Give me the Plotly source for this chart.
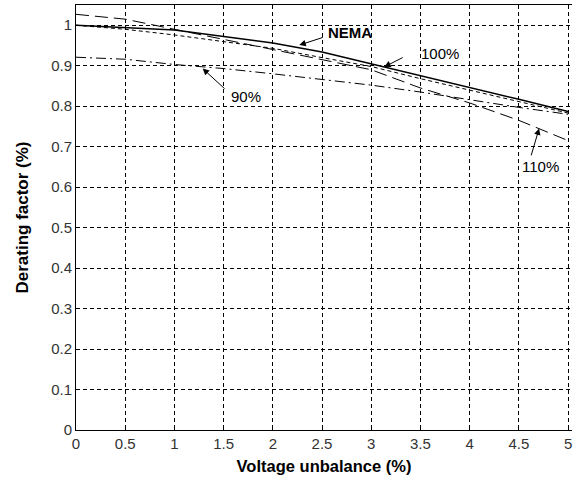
import plotly.graph_objects as go

x_vals = [0, 0.5, 1, 1.5, 2, 2.5, 3, 3.5, 4, 4.5, 5]
nema = [1.0, 0.994, 0.988, 0.972, 0.956, 0.934, 0.905, 0.875, 0.847, 0.817, 0.787]
v100 = [1.0, 0.99, 0.976, 0.96, 0.943, 0.92, 0.898, 0.868, 0.84, 0.812, 0.783]
v110 = [1.027, 1.015, 0.99, 0.965, 0.94, 0.915, 0.89, 0.845, 0.808, 0.765, 0.715]
v90 = [0.921, 0.916, 0.903, 0.893, 0.88, 0.866, 0.852, 0.835, 0.816, 0.797, 0.78]

x_ticks = [0, 0.5, 1, 1.5, 2, 2.5, 3, 3.5, 4, 4.5, 5]
x_ticklabels = ["0", "0.5", "1", "1.5", "2", "2.5", "3", "3.5", "4", "4.5", "5"]
y_ticks = [0, 0.1, 0.2, 0.3, 0.4, 0.5, 0.6, 0.7, 0.8, 0.9, 1]
y_ticklabels = ["0", "0.1", "0.2", "0.3", "0.4", "0.5", "0.6", "0.7", "0.8", "0.9", "1"]

fig = go.Figure()
fig.add_trace(go.Scatter(x=x_vals, y=v90, mode="lines", name="90%",
                         line=dict(color="black", width=1, dash="10px,4px,2px,4px")))
fig.add_trace(go.Scatter(x=x_vals, y=v110, mode="lines", name="110%",
                         line=dict(color="black", width=1, dash="13px,6px")))
fig.add_trace(go.Scatter(x=x_vals, y=v100, mode="lines", name="100%",
                         line=dict(color="black", width=1, dash="4px,3px")))
fig.add_trace(go.Scatter(x=x_vals, y=nema, mode="lines", name="NEMA",
                         line=dict(color="black", width=1.5)))

font_family = "Liberation Sans, Arial, sans-serif"

# arrows (tail -> tip) and labels
arrows = [
    dict(tail=(2.523, 0.971), tip=(2.269, 0.951), text="<b>NEMA</b>", pos=(2.78, 0.982)),
    dict(tail=(3.335, 0.922), tip=(3.132, 0.897), text="100%", pos=(3.70, 0.929)),
    dict(tail=(1.525, 0.840), tip=(1.287, 0.893), text="90%", pos=(1.725, 0.825)),
    dict(tail=(4.621, 0.675), tip=(4.706, 0.745), text="110%", pos=(4.72, 0.652)),
]
for a in arrows:
    fig.add_annotation(x=a["tip"][0], y=a["tip"][1], ax=a["tail"][0], ay=a["tail"][1],
                       axref="x", ayref="y", xref="x", yref="y", text="",
                       showarrow=True, arrowhead=2, arrowsize=1.3, arrowwidth=1,
                       arrowcolor="black")
    fig.add_annotation(x=a["pos"][0], y=a["pos"][1], xref="x", yref="y", text=a["text"],
                       showarrow=False, font=dict(family=font_family, size=15, color="black"))

fig.update_layout(
    width=578, height=481,
    margin=dict(l=76, r=6, t=5, b=51, autoexpand=False),
    paper_bgcolor="white", plot_bgcolor="white",
    showlegend=False,
    font=dict(family=font_family, size=15, color="black"),
)
fig.update_xaxes(
    range=[0, 5.04], tickvals=x_ticks, ticktext=x_ticklabels,
    showgrid=True, gridcolor="black", gridwidth=1, griddash="4px,3px",
    showline=True, linecolor="black", linewidth=1, mirror=True,
    ticks="inside", ticklen=4, tickcolor="black",
    zeroline=False, automargin=False, ticklabeloverflow="allow",
    title=dict(text="<b>Voltage unbalance (%)</b>", font=dict(size=16.5), standoff=9),
    tickfont=dict(size=15, color="#333"),
)
fig.update_yaxes(
    range=[0, 1.05], tickvals=y_ticks, ticktext=y_ticklabels,
    showgrid=True, gridcolor="black", gridwidth=1, griddash="4px,3px",
    showline=True, linecolor="black", linewidth=1, mirror=False,
    ticks="inside", ticklen=4, tickcolor="black",
    zeroline=False, automargin=False, ticklabeloverflow="allow",
    title=dict(text="<b>Derating factor (%)</b>", font=dict(size=17), standoff=18),
    tickfont=dict(size=15, color="#333"),
)

fig.write_html("out.html", config={"displayModeBar": False},
               post_script="document.body.style.margin='0';document.body.style.overflow='hidden';")
